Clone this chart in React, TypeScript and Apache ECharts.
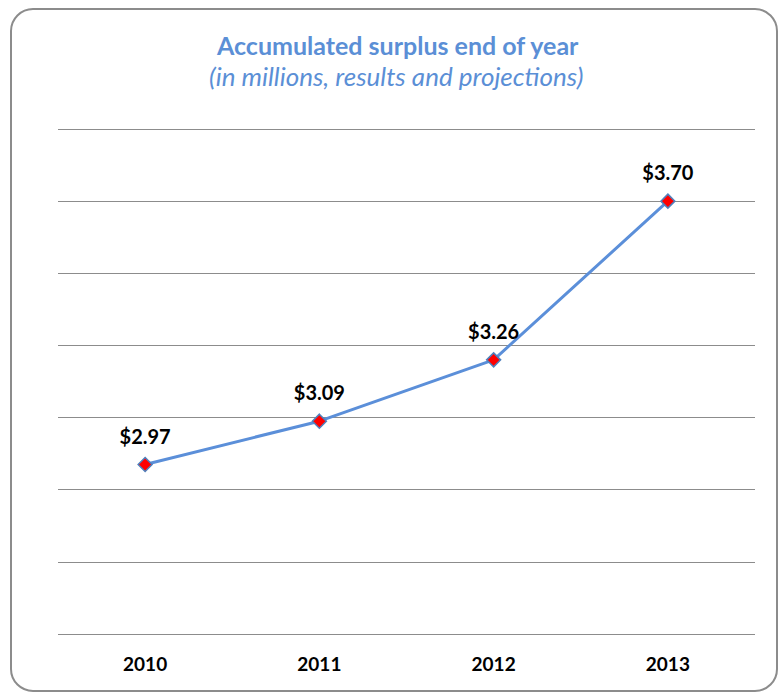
import React, { useEffect, useRef } from "react";
import * as echarts from "echarts";

const years = ["2010", "2011", "2012", "2013"];
const surplus = [2.97, 3.09, 3.26, 3.7];
const gridSteps = [0, 1.4];

export default function App() {
  const ref = useRef<HTMLDivElement>(null);
  useEffect(() => {
    const chart = echarts.init(ref.current!, null, { renderer: "svg" });
    const font = "Lato, 'Open Sans', sans-serif";
    chart.setOption({
      animation: false,
      backgroundColor: "#ffffff",
      graphic: [
        {
          type: "rect",
          shape: { x: 11, y: 9, width: 766, height: 682, r: 22 },
          style: { fill: "none", stroke: "#8c8c8c", lineWidth: 2 },
          silent: true,
        },
      ],
      title: [
        {
          text: "Accumulated surplus end of year",
          left: 212,
          top: 27,
          textStyle: { fontFamily: font, fontSize: 25, fontWeight: "bold", color: "#5b8fd6" },
        },
        {
          text: "(in millions, results and projections)",
          left: 204,
          top: 58,
          textStyle: { fontFamily: font, fontSize: 26, fontWeight: "normal", fontStyle: "italic", color: "#5b8fd6" },
        },
      ],
      grid: { left: 58, right: 25, top: 129, bottom: 60 },
      xAxis: {
        type: "category",
        data: years,
        boundaryGap: true,
        axisLine: { show: false },
        axisTick: { show: false },
        axisLabel: { fontFamily: font, fontSize: 19, fontWeight: "bold", color: "#000", margin: 20 },
      },
      yAxis: [
        { type: "value", min: 2.5, max: 3.9, show: false },
        {
          type: "value",
          min: gridSteps[0],
          max: gridSteps[1],
          interval: 0.2,
          position: "left",
          axisLine: { show: false },
          axisTick: { show: false },
          axisLabel: { show: false },
          splitLine: { show: true, lineStyle: { color: "#8c8c8c", width: 1 } },
        },
      ],
      series: [
        {
          type: "line",
          yAxisIndex: 0,
          data: surplus,
          symbol: "diamond",
          symbolSize: 14,
          itemStyle: { color: "#ff0000", borderColor: "#4f81bd", borderWidth: 1.5 },
          lineStyle: { color: "#5b8fd9", width: 3 },
          label: {
            show: true,
            position: "top",
            distance: 11,
            formatter: (p: any) => "$" + p.value.toFixed(2),
            fontFamily: font,
            fontSize: 20,
            fontWeight: "bold",
            color: "#000",
          },
        },
      ],
    });
    return () => chart.dispose();
  }, []);
  return (
    <div
      ref={ref}
      style={{ position: "fixed", left: 0, top: 0, width: 780, height: 694, background: "#fff" }}
    />
  );
}
